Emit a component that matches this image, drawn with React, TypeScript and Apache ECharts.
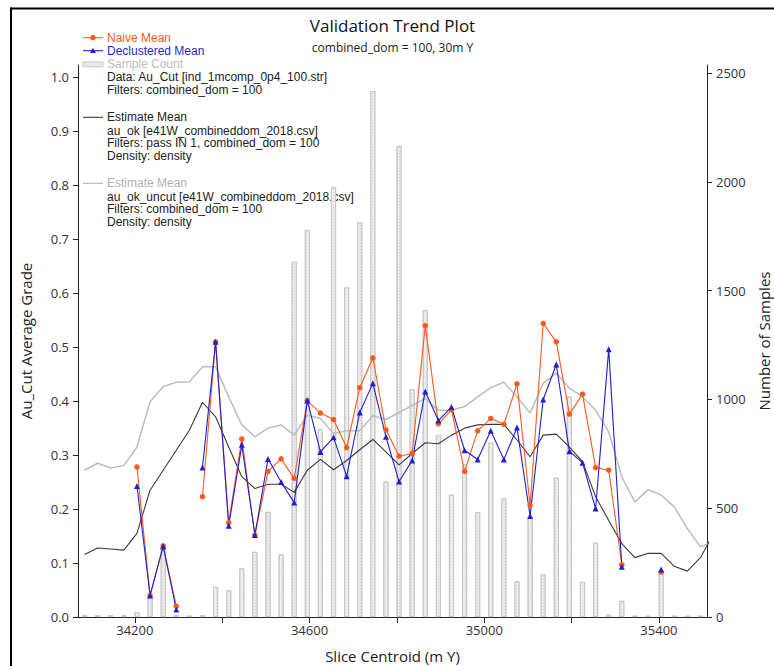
import React, { useEffect, useRef } from 'react';
import * as echarts from 'echarts';

// Slice centroids (m Y), 30 m slices
const centroids = [
  34085, 34115, 34145, 34175, 34205, 34235, 34265, 34295, 34325, 34355, 34385, 34415,
  34445, 34475, 34505, 34535, 34565, 34595, 34625, 34655, 34685, 34715, 34745, 34775,
  34805, 34835, 34865, 34895, 34925, 34955, 34985, 35015, 35045, 35075, 35105, 35135,
  35165, 35195, 35225, 35255, 35285, 35315, 35345, 35375, 35405, 35435, 35465, 35495,
];
// estimate model slices continue one step past the plotted range
const estimateCentroids = [...centroids, 35525];

const sampleCount = [
  8, 8, 8, 8, 22, 92, 322, 10, 6, 8, 138, 123,
  223, 299, 483, 287, 1632, 1779, 863, 1975, 1515, 1814, 2417, 623,
  2165, 1046, 1410, 836, 562, 700, 481, 801, 545, 164, 460, 196,
  640, 1013, 161, 341, 11, 74, 6, 6, 207, 6, 6, 6,
];

const naiveMean: (number | null)[] = [
  null, null, null, null, 0.278, 0.040, 0.132, 0.020, null, 0.223, 0.510, 0.175,
  0.330, 0.152, 0.270, 0.293, 0.257, 0.401, 0.378, 0.366, 0.314, 0.425, 0.480, 0.347,
  0.298, 0.303, 0.540, 0.358, 0.384, 0.270, 0.345, 0.368, 0.357, 0.432, 0.207, 0.544,
  0.510, 0.376, 0.413, 0.277, 0.272, 0.097, null, null, 0.083, null, null, null,
];

const declusteredMean: (number | null)[] = [
  null, null, null, null, 0.243, 0.040, 0.131, 0.014, null, 0.277, 0.510, 0.169,
  0.319, 0.152, 0.293, 0.250, 0.212, 0.401, 0.306, 0.333, 0.261, 0.379, 0.433, 0.334,
  0.251, 0.290, 0.418, 0.364, 0.389, 0.309, 0.292, 0.345, 0.292, 0.351, 0.187, 0.403,
  0.468, 0.307, 0.286, 0.201, 0.496, 0.093, null, null, 0.088, null, null, null,
];

const estimateMean = [
  0.116, 0.128, 0.126, 0.124, 0.155, 0.235, 0.272, 0.309, 0.346, 0.398, 0.371, 0.315,
  0.260, 0.238, 0.246, 0.246, 0.231, 0.272, 0.292, 0.273, 0.290, 0.310, 0.329, 0.306,
  0.282, 0.303, 0.323, 0.321, 0.337, 0.350, 0.356, 0.357, 0.357, 0.328, 0.297, 0.337,
  0.339, 0.315, 0.288, 0.223, 0.179, 0.136, 0.110, 0.118, 0.118, 0.094, 0.085, 0.110,
  0.155,
];

const estimateMeanUncut = [
  0.272, 0.285, 0.276, 0.281, 0.315, 0.399, 0.427, 0.435, 0.436, 0.464, 0.464, 0.408,
  0.356, 0.334, 0.350, 0.356, 0.337, 0.374, 0.368, 0.340, 0.345, 0.345, 0.373, 0.366,
  0.379, 0.392, 0.405, 0.383, 0.383, 0.390, 0.408, 0.425, 0.435, 0.408, 0.378, 0.433,
  0.452, 0.424, 0.408, 0.383, 0.343, 0.260, 0.213, 0.236, 0.226, 0.204, 0.164, 0.130,
  0.140,
];

const xTickValues = [34200, 34400, 34600, 34800, 35000, 35200, 35400];
const xLabelValues = [34200, 34600, 35000, 35400];
const gradeTicks = [0, 0.1, 0.2, 0.3, 0.4, 0.5, 0.6, 0.7, 0.8, 0.9, 1.0];
const countTicks = [0, 500, 1000, 1500, 2000, 2500];

const ORANGE = '#ff5a1e';
const BLUE = '#1f1fcf';
const DARK = '#3a3a3a';
const GREY = '#bdbdbd';
const UIFONT = '"Open Sans", "Noto Sans", sans-serif';
const LEGFONT = '"Liberation Sans", Arial, sans-serif';

const pairs = (xs: number[], ys: (number | null)[]) =>
  ys.map((v, i) => [xs[i], v == null ? '-' : v]);

export default function App() {
  const ref = useRef<HTMLDivElement>(null);

  useEffect(() => {
    if (!ref.current) return;
    const chart = echarts.init(ref.current, null, { renderer: 'svg' });

    const lx = 107;
    const legendText = (y: number, text: string, fill: string) => ({
      type: 'text',
      x: lx,
      y,
      style: { text, fill, font: `12px ${LEGFONT}`, align: 'left', verticalAlign: 'middle' },
    });

    const option: any = {
      animation: false,
      backgroundColor: '#ffffff',
      grid: { left: 78, right: 67, top: 65, bottom: 49, outerBoundsMode: 'none', containLabel: false },
      xAxis: {
        type: 'value',
        min: 34070,
        max: 35510,
        axisLine: { show: true, onZero: false, lineStyle: { color: '#222', width: 1 } },
        axisTick: { show: true, length: 6, customValues: xTickValues, lineStyle: { color: '#222' } },
        axisLabel: {
          customValues: xLabelValues,
          formatter: (v: number) => String(v),
          margin: 6,
          color: '#333',
          fontFamily: UIFONT,
          fontSize: 13,
        },
        splitLine: { show: false },
        name: 'Slice Centroid (m Y)',
        nameLocation: 'middle',
        nameGap: 31,
        nameTextStyle: { fontFamily: UIFONT, fontSize: 15, color: '#222' },
      },
      yAxis: [
        {
          type: 'value',
          position: 'left',
          min: 0,
          max: 1.023,
          interval: 0.1,
          axisLine: { show: true, lineStyle: { color: '#222' } },
          axisTick: { show: true, length: 5, customValues: gradeTicks, lineStyle: { color: '#222' } },
          axisLabel: {
            customValues: gradeTicks,
            formatter: (v: number) => v.toFixed(1),
            margin: 9,
            color: '#333',
            fontFamily: UIFONT,
            fontSize: 13,
          },
          splitLine: { show: false },
          name: 'Au_Cut Average Grade',
          nameLocation: 'middle',
          nameRotate: 90,
          nameGap: 45,
          nameTextStyle: { fontFamily: UIFONT, fontSize: 15, color: '#222' },
        },
        {
          type: 'value',
          position: 'right',
          min: 0,
          max: 2537,
          interval: 500,
          axisLine: { show: true, lineStyle: { color: '#222' } },
          axisTick: { show: true, length: 5, customValues: countTicks, lineStyle: { color: '#222' } },
          axisLabel: {
            customValues: countTicks,
            formatter: (v: number) => String(v),
            margin: 9,
            color: '#333',
            fontFamily: UIFONT,
            fontSize: 13,
          },
          splitLine: { show: false },
          name: 'Number of Samples',
          nameLocation: 'middle',
          nameRotate: 90,
          nameGap: 48,
          nameTextStyle: { fontFamily: UIFONT, fontSize: 15, color: '#222' },
        },
      ],
      series: [
        {
          name: 'Sample Count',
          type: 'bar',
          yAxisIndex: 1,
          barWidth: 5,
          data: pairs(centroids, sampleCount),
          itemStyle: {
            color: '#ededed',
            borderColor: '#c4c4c4',
            borderWidth: 0.8,
            decal: {
              symbol: 'rect',
              symbolSize: 1,
              dashArrayX: [1, 2],
              dashArrayY: [1, 2],
              color: '#d2d2d2',
            },
          },
          silent: true,
        },
        {
          name: 'Estimate Mean (uncut)',
          type: 'line',
          data: pairs(estimateCentroids, estimateMeanUncut),
          showSymbol: false,
          symbol: 'none',
          lineStyle: { color: GREY, width: 1.5 },
          clip: true,
        },
        {
          name: 'Estimate Mean',
          type: 'line',
          data: pairs(estimateCentroids, estimateMean),
          showSymbol: false,
          symbol: 'none',
          lineStyle: { color: DARK, width: 1.1 },
          clip: true,
        },
        {
          name: 'Naive Mean',
          type: 'line',
          data: pairs(centroids, naiveMean),
          symbol: 'circle',
          symbolSize: 5.5,
          itemStyle: { color: ORANGE },
          lineStyle: { color: ORANGE, width: 1.1 },
        },
        {
          name: 'Declustered Mean',
          type: 'line',
          data: pairs(centroids, declusteredMean),
          symbol: 'triangle',
          symbolSize: 6,
          itemStyle: { color: BLUE },
          lineStyle: { color: BLUE, width: 1.1 },
        },
      ],
      graphic: [
        { type: 'line', shape: { x1: 11, y1: 7.5, x2: 11, y2: 666 }, style: { stroke: '#000', lineWidth: 2 } },
        { type: 'line', shape: { x1: 10, y1: 8.5, x2: 774, y2: 8.5 }, style: { stroke: '#000', lineWidth: 2 } },
        {
          type: 'text', x: 392.5, y: 25,
          style: { text: 'Validation Trend Plot', fill: '#111', font: `17px ${UIFONT}`, align: 'center', verticalAlign: 'middle' },
        },
        {
          type: 'text', x: 392.5, y: 47,
          style: { text: 'combined_dom = 100, 30m Y', fill: '#222', font: `12px ${UIFONT}`, align: 'center', verticalAlign: 'middle' },
        },
        // legend: naive
        { type: 'line', shape: { x1: 83, y1: 37.7, x2: 103, y2: 37.7 }, style: { stroke: ORANGE, lineWidth: 1.1 } },
        { type: 'circle', shape: { cx: 93, cy: 37.7, r: 2.7 }, style: { fill: ORANGE } },
        legendText(37.7, 'Naive Mean', ORANGE),
        // legend: declustered
        { type: 'line', shape: { x1: 83, y1: 50.7, x2: 103, y2: 50.7 }, style: { stroke: BLUE, lineWidth: 1.1 } },
        { type: 'polygon', shape: { points: [[93, 47.7], [96, 52.9], [90, 52.9]] }, style: { fill: BLUE } },
        legendText(50.7, 'Declustered Mean', BLUE),
        // legend: sample count
        { type: 'rect', shape: { x: 83, y: 61.8, width: 20, height: 5 }, style: { fill: '#e8e8e8', stroke: '#c4c4c4', lineWidth: 0.8 } },
        legendText(64.3, 'Sample Count', '#bcbcbc'),
        legendText(77.3, 'Data: Au_Cut [ind_1mcomp_0p4_100.str]', '#222'),
        legendText(90, 'Filters: combined_dom = 100', '#222'),
        // legend: estimate mean
        { type: 'line', shape: { x1: 83, y1: 117.3, x2: 103, y2: 117.3 }, style: { stroke: DARK, lineWidth: 1.1 } },
        legendText(117.3, 'Estimate Mean', '#222'),
        legendText(130.5, 'au_ok [e41W_combineddom_2018.csv]', '#222'),
        legendText(143.3, 'Filters: pass IN 1, combined_dom = 100', '#222'),
        legendText(156, 'Density: density', '#222'),
        // legend: estimate mean uncut
        { type: 'line', shape: { x1: 83, y1: 183.3, x2: 103, y2: 183.3 }, style: { stroke: GREY, lineWidth: 1.3 } },
        legendText(183.3, 'Estimate Mean', '#b0b0b0'),
        legendText(196.5, 'au_ok_uncut [e41W_combineddom_2018.csv]', '#222'),
        legendText(209.3, 'Filters: combined_dom = 100', '#222'),
        legendText(222, 'Density: density', '#222'),
      ],
    };

    chart.setOption(option);
    return () => chart.dispose();
  }, []);

  return (
    <div
      ref={ref}
      style={{ position: 'fixed', left: 0, top: 0, width: 774, height: 666, background: '#fff' }}
    />
  );
}
